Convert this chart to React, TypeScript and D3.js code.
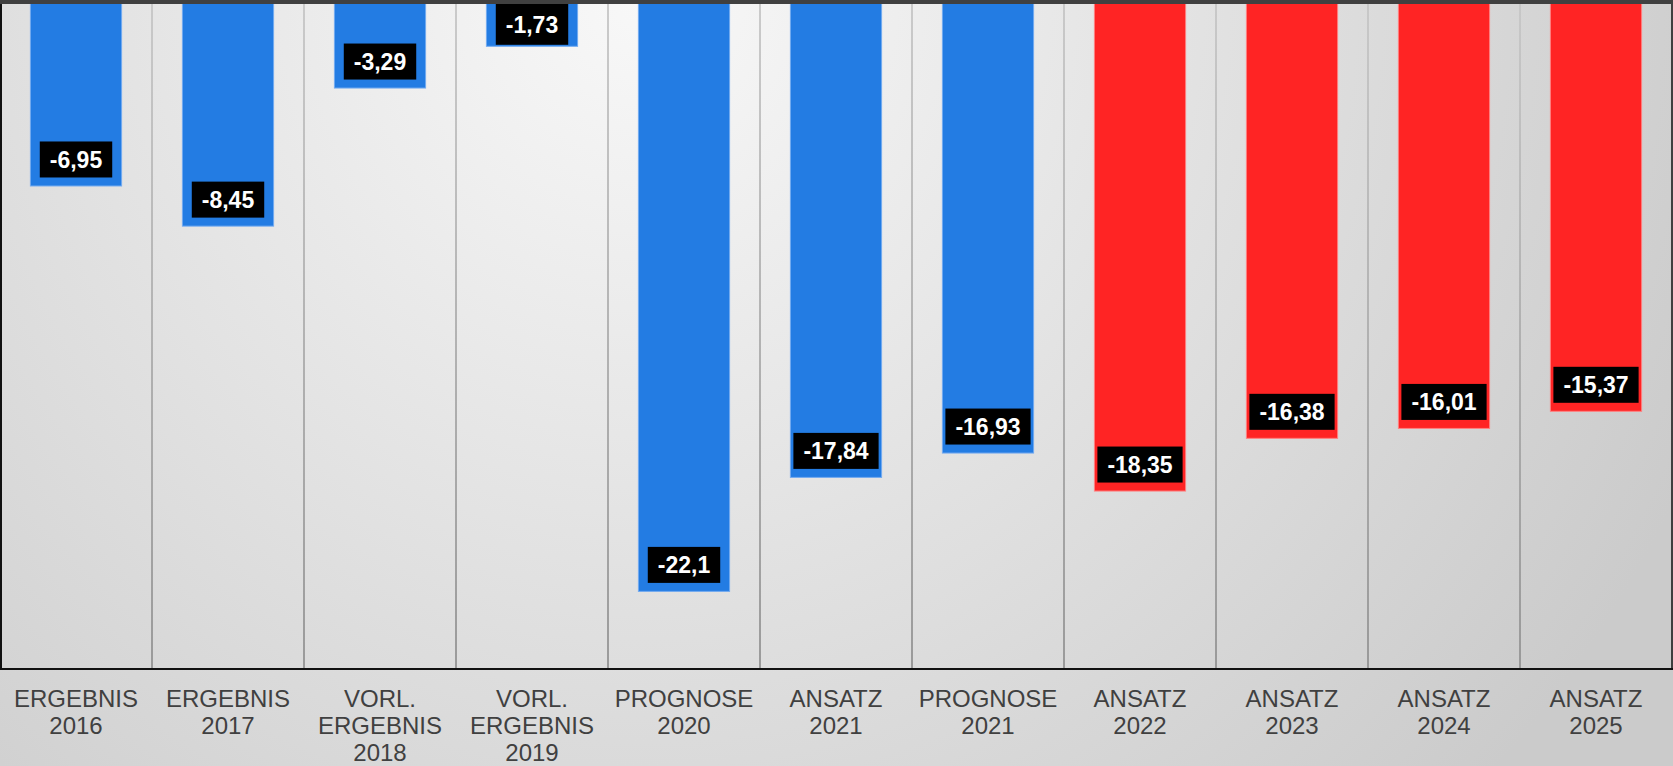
import React, {useEffect, useRef} from 'react';
import * as d3 from 'd3';

const categories = [
  ['ERGEBNIS', '2016'],
  ['ERGEBNIS', '2017'],
  ['VORL.', 'ERGEBNIS', '2018'],
  ['VORL.', 'ERGEBNIS', '2019'],
  ['PROGNOSE', '2020'],
  ['ANSATZ', '2021'],
  ['PROGNOSE', '2021'],
  ['ANSATZ', '2022'],
  ['ANSATZ', '2023'],
  ['ANSATZ', '2024'],
  ['ANSATZ', '2025'],
];
const values = [-6.95, -8.45, -3.29, -1.73, -22.1, -17.84, -16.93, -18.35, -16.38, -16.01, -15.37];
const labels = ['-6,95', '-8,45', '-3,29', '-1,73', '-22,1', '-17,84', '-16,93', '-18,35', '-16,38', '-16,01', '-15,37'];
// first seven are results/forecasts (blue), the rest planned (red)
const kinds = ['ist', 'ist', 'ist', 'ist', 'ist', 'ist', 'ist', 'plan', 'plan', 'plan', 'plan'];

const W = 1673;
const H = 766;

export default function App() {
  const ref = useRef<SVGSVGElement>(null);

  useEffect(() => {
    document.body.style.margin = '0';
    const svg = d3.select(ref.current);
    svg.selectAll('*').remove();

    const plot = {left: 0, right: 1672, top: 0, bottom: 669};
    const keys = categories.map((c) => c.join(' '));

    const x = d3.scaleBand().domain(keys).range([plot.left, plot.right]).paddingInner(0.4).paddingOuter(0.2);
    const y = d3.scaleLinear().domain([-25, 0]).range([plot.bottom, plot.top]);

    const defs = svg.append('defs');
    const bg = defs.append('radialGradient')
      .attr('id', 'bg')
      .attr('gradientUnits', 'userSpaceOnUse')
      .attr('cx', 640).attr('cy', 0).attr('r', 1150);
    bg.append('stop').attr('offset', '0%').attr('stop-color', '#f8f8f8');
    bg.append('stop').attr('offset', '100%').attr('stop-color', '#cbcbcb');

    const grid = defs.append('linearGradient')
      .attr('id', 'grid')
      .attr('gradientUnits', 'userSpaceOnUse')
      .attr('x1', 0).attr('y1', 0).attr('x2', 0).attr('y2', plot.bottom);
    grid.append('stop').attr('offset', '0%').attr('stop-color', '#c6c6c6');
    grid.append('stop').attr('offset', '100%').attr('stop-color', '#939393');

    svg.append('rect').attr('width', W).attr('height', H).attr('fill', 'url(#bg)');

    // vertical separators between categories
    const step = x.step();
    svg.append('g')
      .selectAll('line')
      .data(keys.slice(1))
      .join('line')
      .attr('x1', (d) => x(d)! - x.paddingInner() * step / 2)
      .attr('x2', (d) => x(d)! - x.paddingInner() * step / 2)
      .attr('y1', plot.top)
      .attr('y2', plot.bottom)
      .attr('stroke', 'url(#grid)')
      .attr('stroke-width', 1.8);

    // bars
    svg.append('g')
      .selectAll('rect')
      .data(values)
      .join('rect')
      .attr('x', (d, i) => x(keys[i])!)
      .attr('y', y(0))
      .attr('width', x.bandwidth())
      .attr('height', (d) => y(d) - y(0))
      .attr('fill', (d, i) => (kinds[i] === 'ist' ? '#237ce3' : '#ff2424'))
      .attr('stroke', (d, i) => (kinds[i] === 'ist' ? '#72aaf0' : '#ff8080'))
      .attr('stroke-width', 1);

    // value labels
    const lab = svg.append('g')
      .selectAll('g')
      .data(values)
      .join('g');

    lab.each(function (d, i) {
      const g = d3.select(this);
      const cx = x(keys[i])! + x.bandwidth() / 2;
      const barBottom = y(d);
      let boxBottom = barBottom - 8.5;
      let boxTop = boxBottom - 36;
      if (boxTop < 4) {
        boxBottom = barBottom - 1.5;
        boxTop = boxBottom - 45;
      }
      const mid = boxTop < 4 ? (4 + boxBottom) / 2 : (boxTop + boxBottom) / 2;
      const rect = g.append('rect').attr('fill', '#000');
      const t = g.append('text')
        .attr('x', cx)
        .attr('y', mid + 8.3)
        .attr('text-anchor', 'middle')
        .attr('fill', '#fff')
        .attr('font-family', '"Liberation Sans", Arial, sans-serif')
        .attr('font-weight', 'bold')
        .attr('font-size', 23)
        .text(labels[i]);
      const tw = (t.node() as SVGTextElement).getComputedTextLength();
      rect.attr('x', cx - tw / 2 - 10)
        .attr('y', boxTop)
        .attr('width', tw + 20)
        .attr('height', boxBottom - boxTop);
    });

    // frame
    svg.append('line').attr('x1', 1).attr('x2', 1).attr('y1', 0).attr('y2', plot.bottom).attr('stroke', '#111').attr('stroke-width', 2);
    svg.append('line').attr('x1', plot.right).attr('x2', plot.right).attr('y1', 0).attr('y2', plot.bottom).attr('stroke', '#111').attr('stroke-width', 1.5);
    svg.append('line').attr('x1', 0).attr('x2', plot.right + 1).attr('y1', plot.bottom).attr('y2', plot.bottom).attr('stroke', '#111').attr('stroke-width', 2);

    // category labels
    svg.append('g')
      .selectAll('text')
      .data(categories)
      .join('text')
      .attr('x', (d, i) => x(keys[i])! + x.bandwidth() / 2)
      .attr('y', plot.bottom + 38)
      .attr('text-anchor', 'middle')
      .attr('fill', '#404040')
      .attr('font-family', '"Liberation Sans", Arial, sans-serif')
      .attr('font-size', 24)
      .selectAll('tspan')
      .data((d) => d)
      .join('tspan')
      .attr('x', function () {
        return (this.parentNode as SVGTextElement).getAttribute('x');
      })
      .attr('dy', (d, j) => (j === 0 ? 0 : 26.8))
      .text((d) => d);

    // dark strip along the top edge
    svg.append('rect').attr('x', 0).attr('y', 0).attr('width', W).attr('height', 4).attr('fill', '#404040');
  }, []);

  return (
    <svg
      ref={ref}
      width={W}
      height={H}
      style={{display: 'block', position: 'absolute', left: 0, top: 0}}
    />
  );
}
